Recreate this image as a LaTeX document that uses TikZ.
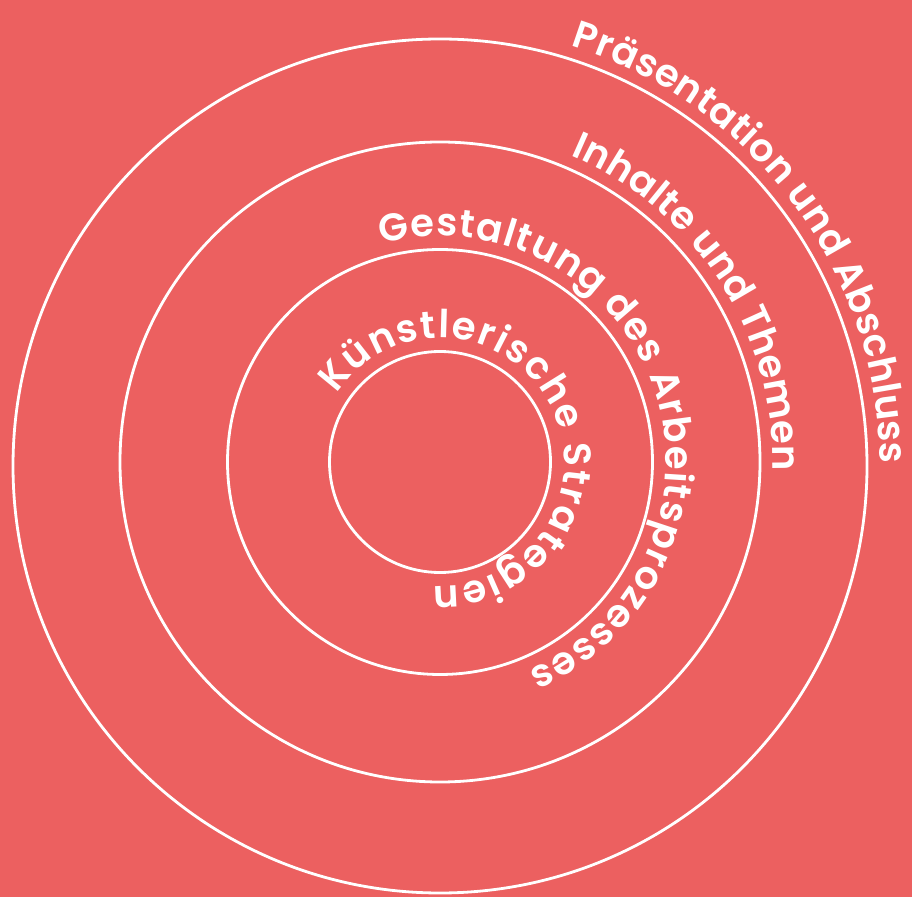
\documentclass[tikz,border=0pt]{standalone}
\usepackage{fontspec}
\newfontfamily\pf{Poppins SemiBold}
\usetikzlibrary{decorations.text}
\definecolor{bg}{RGB}{236,96,96}
\begin{document}
\begin{tikzpicture}[x=1pt,y=1pt,
  ring/.style={draw=white,line width=2.8pt},
  arctext/.style={decorate,decoration={text along path,text align=fit to path,
     text={|\color{white}\pf\fontsize{38.5}{38.5}\selectfont|#1}}}]
\useasboundingbox[fill=bg] (0,0) rectangle (912,897);
\coordinate (c) at (440,435);
\coordinate (co) at (440,431);
% circles
\draw[ring] (c) circle[radius=110.5];
\draw[ring] (c) circle[radius=212.5];
\draw[ring] (c) circle[radius=320];
\draw[ring] (co) circle[radius=427];
% labels
\path[arctext={Künstlerische Strategien}] (c) ++(146.5:124) arc[start angle=146.5,end angle=-93,radius=124];
\path[arctext={Gestaltung des Arbeitsprozesses}] (c) ++(105:226) arc[start angle=105,end angle=-67,radius=226];
\path[arctext={Inhalte und Themen}] (c) ++(67:333) arc[start angle=67,end angle=-1.5,radius=333];
\path[arctext={Präsentation und Abschluss}] (co) ++(72.7:440) arc[start angle=72.7,end angle=0.3,radius=440];
\end{tikzpicture}
\end{document}
